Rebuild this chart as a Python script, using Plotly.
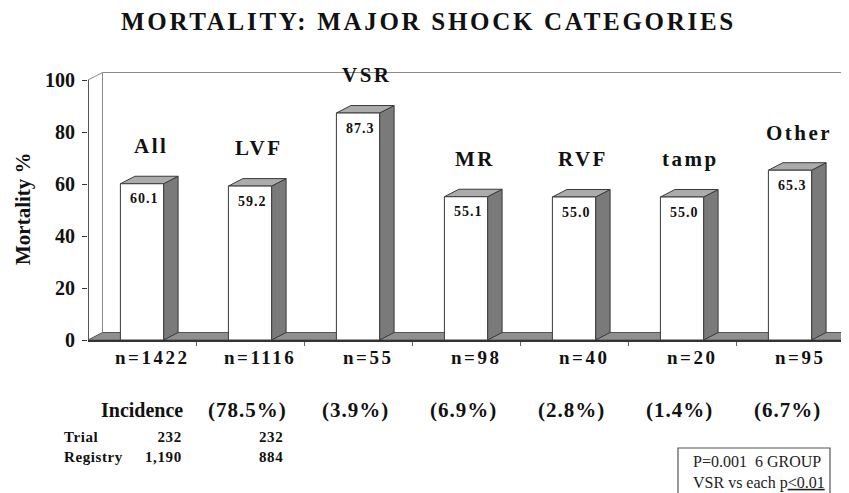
import plotly.graph_objects as go

# ---------------- data ----------------
categories = ["All", "LVF", "VSR", "MR", "RVF", "tamp", "Other"]
mortality = [60.1, 59.2, 87.3, 55.1, 55.0, 55.0, 65.3]
n_counts = [1422, 1116, 55, 98, 40, 20, 95]
incidence = [None, 78.5, 3.9, 6.9, 2.8, 1.4, 6.7]
table_rows = ["Trial", "Registry"]
table_all = ["232", "1,190"]
table_lvf = ["232", "884"]
stats_lines = ["P=0.001\u00a0 6 GROUP", "VSR vs each p<u>&lt;0.01</u>"]

# ---------------- style ----------------
# page body has an 8px margin, so the figure is 8px smaller than the window
W, H = 841, 485
PLOT_L, PLOT_R, PLOT_T, PLOT_B = 88, 849, 66, 340   # plot area in window px
OFF = 8
L = PLOT_L - OFF
T = PLOT_T - OFF
R = (W + OFF) - PLOT_R
B = (H + OFF) - PLOT_B
PW, PH = PLOT_R - PLOT_L, PLOT_B - PLOT_T
CAT_PX = 108.0                        # px per category
X0 = -0.5
X1 = X0 + PW / CAT_PX
Y1 = 100 * PH / 260.0                 # 260 px per 100 units
DX = 14.5 / CAT_PX                    # 3-D depth offset in data units
DY = 7.5 / 2.6
BW = 0.4
SERIF = "Liberation Serif"
SIDE = "#7a7a7a"
TOP = "#ababab"
FLOOR = "#8f8f8f"
EDGE = "#3a3a3a"


def px(xp):
    return (xp - PLOT_L) / PW


def py(yp):
    return (PLOT_B - yp) / PH


def poly(xs, ys, fill, line=EDGE, width=1):
    return go.Scatter(x=xs + [xs[0]], y=ys + [ys[0]], mode="lines", fill="toself",
                      fillcolor=fill, line=dict(color=line, width=width),
                      hoverinfo="skip", showlegend=False)


def line(xs, ys, color="#8a8a8a", width=1):
    return go.Scatter(x=xs, y=ys, mode="lines", line=dict(color=color, width=width),
                      hoverinfo="skip", showlegend=False)


fig = go.Figure()

# left wall + back wall
fig.add_trace(line([X0, X0], [0, 100], color="#555", width=2))
fig.add_trace(line([X0, X0 + DX, X0 + DX], [100, 100 + DY, DY]))
fig.add_trace(line([X0 + DX, X1 + 1], [100 + DY, 100 + DY]))
# floor
n = len(categories)
fig.add_trace(poly([X0, n - 0.5, n - 0.5 + DX, X0 + DX], [0, 0, DY, DY], FLOOR, line="#555"))

# bars
for i, v in enumerate(mortality):
    xl, xr = i - BW / 2, i + BW / 2
    fig.add_trace(poly([xr, xr + DX, xr + DX, xr], [0, DY, v + DY, v], SIDE))
    fig.add_trace(poly([xl, xr, xr + DX, xl + DX], [v, v, v + DY, v + DY], TOP))
    fig.add_trace(poly([xl, xr, xr, xl], [0, 0, v, v], "white"))

ann = []


def sp(text, ls):
    return f'<span style="letter-spacing:{ls}px">{text}</span>'


def bfont(size, bold=True, color="#111"):
    d = dict(family=SERIF, size=size, color=color)
    if bold:
        d["weight"] = "bold"
    return d


# title
ann.append(dict(xref="paper", yref="paper", x=px(428), y=py(22),
                text=sp("MORTALITY: MAJOR SHOCK CATEGORIES", 2.7),
                font=bfont(25), showarrow=False, xanchor="center", yanchor="middle"))
# y title
ann.append(dict(xref="paper", yref="paper", x=px(23), y=py(209), text="Mortality %",
                textangle=-90, font=bfont(21),
                showarrow=False, xanchor="center", yanchor="middle"))

for i, (c, v) in enumerate(zip(categories, mortality)):
    ann.append(dict(x=i + 0.08, y=v + 14.5, xref="x", yref="y", text=sp(c, 2.5),
                    font=bfont(21), showarrow=False, xanchor="center", yanchor="middle"))
    ann.append(dict(x=i + 0.02, y=v - 5.8, xref="x", yref="y", text=sp(f"{v:.1f}", 1),
                    font=bfont(14), showarrow=False, xanchor="center", yanchor="middle"))
    ann.append(dict(x=i + 0.09, y=py(357), xref="x", yref="paper", text=sp(f"n={n_counts[i]}", 2.5),
                    font=bfont(19), showarrow=False, xanchor="center", yanchor="middle"))
    if incidence[i] is not None:
        ann.append(dict(x=i - 0.02, y=py(410), xref="x", yref="paper", text=sp(f"({incidence[i]}%)", 1),
                        font=bfont(21), showarrow=False, xanchor="center", yanchor="middle"))

ann.append(dict(x=0, y=py(410), xref="x", yref="paper", text="Incidence",
                font=bfont(20), showarrow=False, xanchor="center", yanchor="middle"))

# small Trial / Registry table (one multi-line text per column)
TBL_Y = py(447)
ann.append(dict(xref="paper", yref="paper", x=px(62), y=TBL_Y,
                text="<br>".join(sp(t, 0.6) for t in table_rows), align="left",
                font=bfont(15), showarrow=False, xanchor="left", yanchor="middle"))
ann.append(dict(xref="paper", yref="paper", x=px(184), y=TBL_Y,
                text="<br>".join(sp(t, 0.6) for t in table_all), align="right",
                font=bfont(15), showarrow=False, xanchor="right", yanchor="middle"))
ann.append(dict(x=1 + 0.19, xref="x", yref="paper", y=TBL_Y,
                text="<br>".join(sp(t, 0.6) for t in table_lvf), align="center",
                font=bfont(15), showarrow=False, xanchor="center", yanchor="middle"))

ann.append(dict(xref="paper", yref="paper", x=px(691), y=py(472),
                text="<br>".join(stats_lines), align="left",
                font=bfont(16, bold=False, color="#222"),
                showarrow=False, xanchor="left", yanchor="middle"))

fig.update_layout(
    width=W, height=H,
    margin=dict(l=L, r=R, t=T, b=B, pad=0),
    paper_bgcolor="white", plot_bgcolor="white",
    showlegend=False,
    annotations=ann,
    shapes=[dict(type="rect", xref="paper", yref="paper", x0=px(678), x1=px(830),
                 y0=py(505), y1=py(448), line=dict(color="#555", width=1.2))],
    xaxis=dict(range=[X0, X1], showgrid=False, zeroline=False, showline=True,
               linecolor="#333", linewidth=1.5,
               tickvals=[i + 0.5 for i in range(n)], ticktext=[""] * n,
               ticks="outside", ticklen=4, tickcolor="#666"),
    yaxis=dict(range=[0, Y1], showgrid=False, zeroline=False, showline=False,
               tickvals=[0, 20, 40, 60, 80, 100], ticks="outside", ticklen=5,
               tickcolor="#333", ticklabelstandoff=3,
               tickfont=bfont(20)),
)

fig.write_html("out.html")
